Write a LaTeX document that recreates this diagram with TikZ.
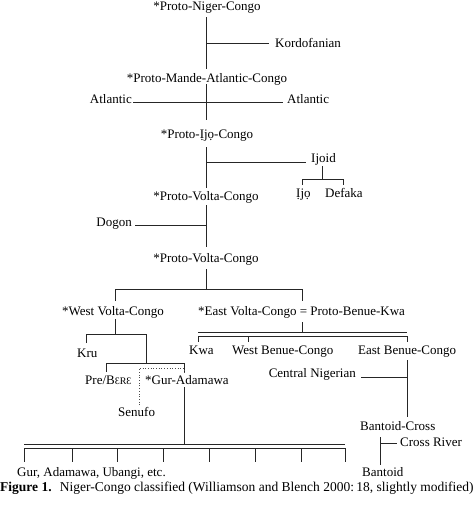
\documentclass[tikz,border=0pt]{standalone}
\usepackage{fontspec}
\setmainfont{Liberation Serif}
\begin{document}
\begin{tikzpicture}[x=1pt,y=-1pt,
  lbl/.style={inner sep=0pt,font=\fontsize{13}{15}\selectfont,anchor=base},
  lblw/.style={lbl,anchor=base west},
  lble/.style={lbl,anchor=base east},
  br/.style={line width=0.8pt,draw=black!85},
  dotl/.style={line width=0.7pt,draw=black!70,dotted}]
\useasboundingbox (0,0) rectangle (474,507);
% labels
\node[lbl]  (pnc)  at (207,10)  {*Proto-Niger-Congo};
\node[lblw] (kord) at (275,47)  {Kordofanian};
\node[lbl]  (pmac) at (207,82)  {*Proto-Mande-Atlantic-Congo};
\node[lble] (atl1) at (132,103) {Atlantic};
\node[lblw] (atl2) at (287,103) {Atlantic};
\node[lbl]  (pic)  at (207,138) {*Proto-Ịjọ-Congo};
\node[lblw] (ijoid) at (311,162) {Ijoid};
\node[lblw] (ijo)  at (296,197) {Ịjọ};
\node[lblw] (def)  at (325,197) {Defaka};
\node[lbl]  (pvc1) at (206,200) {*Proto-Volta-Congo};
\node[lble] (dog)  at (132,226) {Dogon};
\node[lbl]  (pvc2) at (206,262) {*Proto-Volta-Congo};
\node[lbl]  (wvc)  at (113,315) {*West Volta-Congo};
\node[lblw] (evc)  at (198,315) {*East Volta-Congo = Proto-Benue-Kwa};
\node[lblw] (kru)  at (77,357)  {Kru};
\node[lblw] (kwa)  at (189,354) {Kwa};
\node[lblw] (wbc)  at (232,354) {West Benue-Congo};
\node[lblw] (ebc)  at (358,354) {East Benue-Congo};
\node[lble] (cn)   at (356,377) {Central Nigerian};
\node[lblw] (pre)  at (85,384)  {Pre/B{\fontsize{10}{12}\selectfont ƐRƐ}};
\node[lblw] (gur)  at (145,384) {*Gur-Adamawa};
\node[lblw] (sen)  at (118,416) {Senufo};
\node[lblw] (bc)   at (360,430) {Bantoid-Cross};
\node[lblw] (cr)   at (400,446) {Cross River};
\node[lblw] (gaub) at (17,476)  {Gur, Adamawa, Ubangi, etc.};
\node[lblw] (bant) at (362,476) {Bantoid};
\node[lblw,font=\fontsize{13.5}{15}\selectfont] (cap) at (0,491) {\textbf{Figure 1.}\hspace{0.6em}Niger-Congo classified (Williamson and Blench 2000:\,18, slightly modified)};
% junction coordinates
\coordinate (a1) at (206,17);  \coordinate (a2) at (206,69);
\coordinate (k1) at (206,43);  \coordinate (k2) at (269,43);
\coordinate (b1) at (206,84);  \coordinate (b2) at (206,120);
\coordinate (t1) at (133,102); \coordinate (t2) at (283,102);
\coordinate (c1) at (206,147); \coordinate (c2) at (206,188);
\coordinate (i1) at (206,162); \coordinate (i2) at (306,162);
\coordinate (is1) at (322,166); \coordinate (is2) at (322,179);
\coordinate (il) at (302,179); \coordinate (ir) at (343,179);
\coordinate (d1) at (206,205); \coordinate (d2) at (206,247);
\coordinate (g1) at (135,225); \coordinate (g2) at (206,225);
\coordinate (e1) at (206,269); \coordinate (e2) at (206,289);
\coordinate (el) at (115,289); \coordinate (er) at (302,289);
\coordinate (w1) at (115,319); \coordinate (w2) at (115,334);
\coordinate (wl) at (86,334);  \coordinate (wr) at (146,334);
\coordinate (wr2) at (146,363);
\coordinate (xl) at (106,363); \coordinate (xr) at (184,363);
\coordinate (s1) at (139,405); \coordinate (s2) at (139,368); \coordinate (s3) at (184,368);
\coordinate (gs1) at (184,387); \coordinate (gs2) at (184,444);
\coordinate (bl1) at (24,444);  \coordinate (br1) at (345,444);
\coordinate (bl2) at (24,448);  \coordinate (br2) at (345,448);
\coordinate (v1) at (302,322); \coordinate (v2) at (302,332);
\coordinate (vl1) at (198,332); \coordinate (vr1) at (407,332);
\coordinate (vl2) at (198,336); \coordinate (vr2) at (407,336);
\coordinate (n1) at (407,360); \coordinate (n2) at (407,417);
\coordinate (cn1) at (361,377); \coordinate (cn2) at (407,377);
\coordinate (q1) at (380,437); \coordinate (q2) at (380,465);
\coordinate (q3) at (380,443); \coordinate (q4) at (397,443);
% connectors
\draw[br] (a1) -- (a2);
\draw[br] (k1) -- (k2);
\draw[br] (b1) -- (b2);
\draw[br] (t1) -- (t2);
\draw[br] (c1) -- (c2);
\draw[br] (i1) -- (i2);
\draw[br] (is1) -- (is2);
\draw[br] ([yshift=-6pt]il) -- (il) -- (ir) -- ([yshift=-6pt]ir);
\draw[br] (d1) -- (d2);
\draw[br] (g1) -- (g2);
\draw[br] (e1) -- (e2);
\draw[br] ([yshift=-12pt]el) -- (el) -- (er) -- ([yshift=-12pt]er);
\draw[br] (w1) -- (w2);
\draw[br] ([yshift=-9pt]wl) -- (wl) -- (wr) -- (wr2);
\draw[br] ([yshift=-9pt]xl) -- (xl) -- (xr) -- ([yshift=-9pt]xr);
\draw[dotl] (s1) -- (s2) -- (s3) -- ([yshift=-5pt]s3);
\draw[br] (gs1) -- (gs2);
\draw[br] (bl1) -- (br1);
\draw[br] (bl2) -- (br2);
\foreach \xx in {24,72,117,163,209,255,301,345}
  \draw[br] (\xx,448) -- (\xx,462);
\draw[br] (v1) -- (v2);
\draw[br] (vl1) -- (vr1);
\draw[br] (vl2) -- (vr2);
\foreach \xx in {198,248,407}
  \draw[br] (\xx,336) -- (\xx,342);
\draw[br] (n1) -- (n2);
\draw[br] (cn1) -- (cn2);
\draw[br] (q1) -- (q2);
\draw[br] (q3) -- (q4);
\end{tikzpicture}
\end{document}
